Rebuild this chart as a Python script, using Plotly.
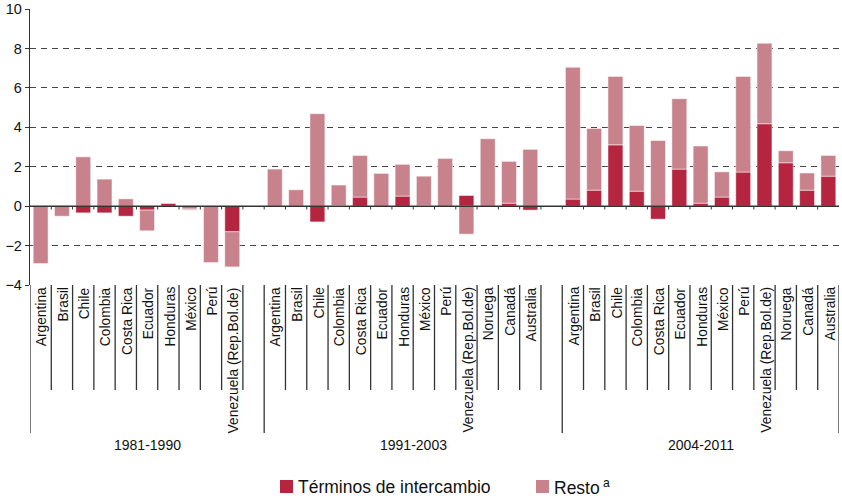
import plotly.graph_objects as go

periods = ["1981-1990", "1991-2003", "2004-2011"]
countries_1981 = ["Argentina", "Brasil", "Chile", "Colombia", "Costa Rica", "Ecuador",
                  "Honduras", "México", "Perú", "Venezuela (Rep.Bol.de)"]
countries_1991 = countries_1981 + ["Noruega", "Canadá", "Australia"]
countries_2004 = countries_1991[:]

terminos_1981 = [0.0, 0.0, -0.34, -0.34, -0.51, -0.2, 0.15, -0.1, 0.0, -1.3]
resto_1981 = [-2.91, -0.51, 2.5, 1.37, 0.37, -1.05, 0.0, -0.08, -2.86, -1.78]
terminos_1991 = [0.0, 0.0, -0.8, 0.03, 0.46, 0.0, 0.51, 0.03, 0.0, 0.54, 0.0, 0.15, -0.2]
resto_1991 = [1.88, 0.83, 4.69, 1.04, 2.11, 1.66, 1.61, 1.49, 2.42, -1.42, 3.42, 2.12, 2.88]
terminos_2004 = [0.36, 0.81, 3.11, 0.76, -0.66, 1.88, 0.15, 0.46, 1.73, 4.18, 2.2, 0.81, 1.52]
resto_2004 = [6.68, 3.13, 3.47, 3.33, 3.33, 3.57, 2.9, 1.28, 4.85, 4.08, 0.61, 0.87, 1.05]

y_ticks = [-4, -2, 0, 2, 4, 6, 8, 10]
series_names = ["Términos de intercambio", "Resto<sup> a</sup>"]

groups = [
    (periods[0], countries_1981, terminos_1981, resto_1981, True),
    (periods[1], countries_1991, terminos_1991, resto_1991, True),
    (periods[2], countries_2004, terminos_2004, resto_2004, False),
]

# Build slot positions (with one empty slot after groups 1 and 2)
xs, names, term, rest = [], [], [], []
group_bounds = []
pos = 0
for label, cs, t, r, gap in groups:
    start = pos
    for c, tv, rv in zip(cs, t, r):
        xs.append(pos)
        names.append(c)
        term.append(tv)
        rest.append(rv)
        pos += 1
    if gap:
        pos += 1
    group_bounds.append((label, start - 0.5, pos - 0.5))
n_slots = pos

DARK = "#B5253F"
LIGHT = "#C8828C"
FONT = "Liberation Sans, Arial, sans-serif"
TXT = "#111111"

fig = go.Figure()
fig.add_trace(go.Bar(x=xs, y=term, name=series_names[0], showlegend=False,
                     marker=dict(color=DARK, line=dict(color="rgba(255,255,255,0.6)", width=0.8))))
fig.add_trace(go.Bar(x=xs, y=rest, name=series_names[1], showlegend=False,
                     marker=dict(color=LIGHT, line=dict(color="rgba(255,255,255,0.6)", width=0.8))))

L, R, T, B = 30, 3, 9, 213
W, H = 842, 498
plot_w = W - L - R
plot_h = H - T - B
short_len = 105 / plot_h
long_len = 148 / plot_h


def px_x(p):
    return (p - L) / plot_w


def px_y(p):
    return (H - B - p) / plot_h


shapes = []
annotations = []
line_style = dict(color="#333333", width=1.3)

# Long group dividers
long_xs = [b[1] for b in group_bounds] + [group_bounds[-1][2]]
for lx in long_xs:
    shapes.append(dict(type="line", xref="x", yref="paper", x0=lx, x1=lx,
                       y0=0, y1=-long_len, line=line_style))
# Short separators after each country
for x in xs:
    bx = x + 0.5
    if bx in long_xs:
        continue
    shapes.append(dict(type="line", xref="x", yref="paper", x0=bx, x1=bx,
                       y0=0, y1=-short_len, line=line_style))
# small ticks under zero line
for k in range(1, n_slots):
    bx = k - 0.5
    shapes.append(dict(type="line", xref="x", yref="y", x0=bx, x1=bx,
                       y0=0, y1=-0.17, line=dict(color="#333333", width=1)))
# zero line on top
shapes.append(dict(type="line", xref="paper", yref="y", x0=0, x1=1, y0=0, y1=0,
                   line=dict(color="#333333", width=1.5), layer="above"))

for x, name in zip(xs, names):
    annotations.append(dict(x=x + 0.5, y=0, xref="x", yref="paper", text=name,
                            showarrow=False, textangle=-90, xanchor="right", yanchor="top",
                            xshift=-1, yshift=-1, borderpad=0,
                            font=dict(family=FONT, size=13.8, color=TXT)))
for label, a, b in group_bounds:
    annotations.append(dict(x=(a + b) / 2, y=px_y(445), xref="x", yref="paper",
                            text=label, showarrow=False, xanchor="center", yanchor="middle",
                            font=dict(family=FONT, size=14, color=TXT)))

# Manual legend
legend_items = [(series_names[0], DARK, 280), (series_names[1], LIGHT, 536)]
for name, col, sx in legend_items:
    shapes.append(dict(type="rect", xref="paper", yref="paper",
                       x0=px_x(sx), x1=px_x(sx + 13), y0=px_y(480), y1=px_y(493),
                       fillcolor=col, line=dict(width=0)))
    annotations.append(dict(x=px_x(sx + 17), y=px_y(487), xref="paper", yref="paper",
                            text=name, showarrow=False, xanchor="left", yanchor="middle",
                            borderpad=0, font=dict(family=FONT, size=17.5, color=TXT)))

fig.update_layout(
    width=W, height=H, autosize=False,
    margin=dict(l=L, r=R, t=T, b=B, autoexpand=False),
    plot_bgcolor="white", paper_bgcolor="white",
    barmode="relative", bargap=0.3,
    font=dict(family=FONT, size=13, color=TXT),
    shapes=shapes, annotations=annotations,
    showlegend=False,
    xaxis=dict(range=[-0.5, n_slots - 0.5], showticklabels=False, showgrid=False,
               zeroline=False, showline=False, ticks="", automargin=False),
    yaxis=dict(range=[-4, 10], tickvals=y_ticks, showgrid=True, gridcolor="#444444",
               griddash="6px,5px", gridwidth=1, zeroline=False, showline=True,
               linecolor="#333333", linewidth=1.3, ticks="outside", ticklen=4,
               tickcolor="#333333", automargin=False,
               tickfont=dict(family=FONT, size=14.5, color=TXT)),
)

fig.write_html("out.html", config={"displayModeBar": False},
               post_script="document.body.style.margin='0';document.body.style.overflow='hidden';")
